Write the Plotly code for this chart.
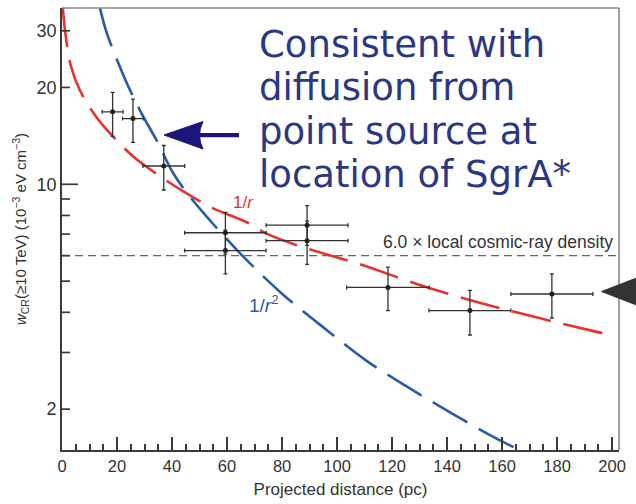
import plotly.graph_objects as go

# Cosmic-ray energy density profile around the Galactic Centre
distance_pc = [18.4, 25.8, 37.0, 59.4, 59.4, 89.1, 89.1, 118.5, 148.3, 178.1]
distance_halfwidth = [3.8, 3.8, 7.6, 14.8, 14.8, 14.9, 14.9, 15.0, 14.9, 14.9]
w_cr = [16.8, 16.0, 11.4, 7.07, 6.22, 7.46, 6.68, 4.78, 4.05, 4.56]
w_cr_upper = [19.3, 18.4, 13.2, 8.18, 7.20, 8.58, 7.68, 5.53, 4.68, 5.27]
w_cr_lower = [14.1, 13.5, 9.6, 6.07, 5.27, 6.46, 5.64, 4.05, 3.40, 3.84]

# Projected model profiles
r_inv_x = [0.3, 1.1, 3.3, 6.5, 12.0, 17.5, 25.9, 35.6, 45.3, 55.0, 67.2, 74.2, 86.5, 107.2, 133.8, 164.1, 200.0]
r_inv_y = [35.5, 30.0, 23.2, 19.6, 16.4, 14.4, 12.2, 10.6, 9.37, 8.42, 7.62, 7.04, 6.42, 5.68, 4.75, 4.02, 3.39]
r_inv2_x = [13.8, 16.3, 20.5, 24.7, 29.6, 34.4, 40.5, 46.5, 52.6, 65.3, 80.5, 96.3, 111.4, 126.5, 141.7, 156.8, 166.5]
r_inv2_y = [35.3, 29.5, 23.8, 19.65, 16.2, 13.7, 10.8, 9.15, 7.93, 6.03, 4.53, 3.52, 2.80, 2.32, 1.94, 1.64, 1.49]

local_factor = 6.0
x_ticks = list(range(0, 201, 20))
y_ticks = [2, 10, 20, 30]
y_minor = [3, 4, 5, 6, 7, 8, 9]
y_long_tick = 10

W, H = 636, 504
L, R, T, B = 62, 17, 8, 54
PW, PH = W - L - R, H - T - B
X_MAX = 202.5


def px(x):
    return (x - L) / PW


def py(y):
    return (H - B - y) / PH


RED = "#e8322f"
BLUE = "#2b5ba8"
NAVY_TEXT = "#2c3784"
NAVY = "#1c1479"
AX = "#3a3a3a"
FONT = "Liberation Sans, Arial, sans-serif"

fig = go.Figure()

fig.add_trace(go.Scatter(
    x=r_inv_x, y=r_inv_y, mode="lines", line_shape="spline",
    line=dict(color=RED, width=2.6, dash="40px,13px"), hoverinfo="skip", showlegend=False))
fig.add_trace(go.Scatter(
    x=r_inv2_x, y=r_inv2_y, mode="lines", line_shape="spline",
    line=dict(color=BLUE, width=2.6, dash="40px,13px"), hoverinfo="skip", showlegend=False))
fig.add_trace(go.Scatter(
    x=[0, X_MAX], y=[local_factor, local_factor], mode="lines",
    line=dict(color="#666666", width=1.4, dash="8px,5px"), hoverinfo="skip", showlegend=False))

# inward y-axis tick marks (longer one at the decade), drawn on the axis scale
units_per_px = X_MAX / PW
tick_x, tick_y = [], []
for v in sorted(y_ticks + y_minor):
    length = (16 if v == y_long_tick else 8) * units_per_px
    tick_x += [0, length, None]
    tick_y += [v, v, None]
fig.add_trace(go.Scatter(x=tick_x, y=tick_y, mode="lines", line=dict(color=AX, width=1.7),
                         cliponaxis=False, hoverinfo="skip", showlegend=False))

fig.add_trace(go.Scatter(
    x=distance_pc, y=w_cr, mode="markers",
    marker=dict(color="#222222", size=5),
    error_x=dict(type="data", array=distance_halfwidth, color="#333333", thickness=1.3, width=2),
    error_y=dict(type="data",
                 array=[u - v for u, v in zip(w_cr_upper, w_cr)],
                 arrayminus=[v - l for v, l in zip(w_cr, w_cr_lower)],
                 color="#333333", thickness=1.3, width=2),
    showlegend=False))

fig.update_layout(
    width=W, height=H,
    margin=dict(l=L, r=R, t=T, b=B),
    paper_bgcolor="white", plot_bgcolor="white",
    font=dict(family=FONT, color="#333333"),
    xaxis=dict(
        range=[0, X_MAX], showgrid=False, zeroline=False,
        showline=True, linecolor=AX, linewidth=1.6,
        tickvals=x_ticks, ticks="inside", ticklen=13, tickwidth=1.6, tickcolor=AX,
        tickfont=dict(size=16.5, color="#333333"),
        minor=dict(dtick=5, tick0=0, ticks="inside", ticklen=6, tickwidth=1.5, tickcolor=AX),
        title=dict(text="Projected distance (pc)", font=dict(size=17, color="#333333"), standoff=10),
    ),
    yaxis=dict(
        type="log", range=[0.174, 1.548], showgrid=False, zeroline=False,
        showline=True, linecolor=AX, linewidth=1.6,
        tickvals=y_ticks, ticktext=[str(v) for v in y_ticks], ticks="",
        tickfont=dict(size=18, color="#333333"),
        title=dict(text="<i>w</i><sub>CR</sub>(≥10 TeV) (10<sup>−3</sup> eV cm<sup>−3</sup>)",
                   font=dict(size=15, color="#333333"), standoff=6),
    ),
)

# frame: top and right borders
fig.add_shape(type="line", xref="paper", yref="paper", x0=0, x1=1, y0=1, y1=1,
              line=dict(color="#888888", width=1.4))
fig.add_shape(type="line", xref="paper", yref="paper", x0=1, x1=1, y0=0, y1=1,
              line=dict(color="#777777", width=1.4))

# navy arrow pointing at the inner points
head = "M {} {} L {} {} Q {} {} {} {} Z".format(
    px(164), py(135), px(203), py(121.5), px(196), py(135), px(203), py(149))
fig.add_shape(type="path", xref="paper", yref="paper", path=head,
              fillcolor=NAVY, line=dict(color=NAVY, width=1))
fig.add_shape(type="rect", xref="paper", yref="paper",
              x0=px(198), x1=px(239), y0=py(133), y1=py(137.2),
              fillcolor=NAVY, line=dict(width=0))

# black arrowhead at the right edge
tri = "M {} {} L {} {} L {} {} Z".format(px(601.5), py(291.5), px(652), py(272), px(652), py(311))
fig.add_shape(type="path", xref="paper", yref="paper", path=tri,
              fillcolor="#333333", line=dict(color="#333333", width=1))

fig.add_annotation(xref="paper", yref="paper", x=px(615), y=py(242), xanchor="right",
                   yanchor="middle", showarrow=False,
                   text="6.0 × local cosmic-ray density", font=dict(size=17.5, color="#333333"))
fig.add_annotation(xref="paper", yref="paper", x=px(232), y=py(202), showarrow=False,
                   text="1/<i>r</i>", font=dict(size=17, color=RED), borderpad=0)
fig.add_annotation(xref="paper", yref="paper", x=px(264), y=py(317), showarrow=False,
                   text="1/<i>r</i><sup>2</sup>", font=dict(size=19, color=BLUE), borderpad=0)

lines = ["Consistent with", "diffusion from", "point source at", "location of SgrA*"]
baselines = [58, 101.7, 145, 188]
for txt, base in zip(lines, baselines):
    fig.add_annotation(xref="paper", yref="paper", x=px(258), y=py(base - 14),
                       xanchor="left", yanchor="middle", showarrow=False, text=txt,
                       borderpad=0,
                       font=dict(family="DejaVu Sans", size=37, color=NAVY_TEXT))

fig.write_html("out.html")
